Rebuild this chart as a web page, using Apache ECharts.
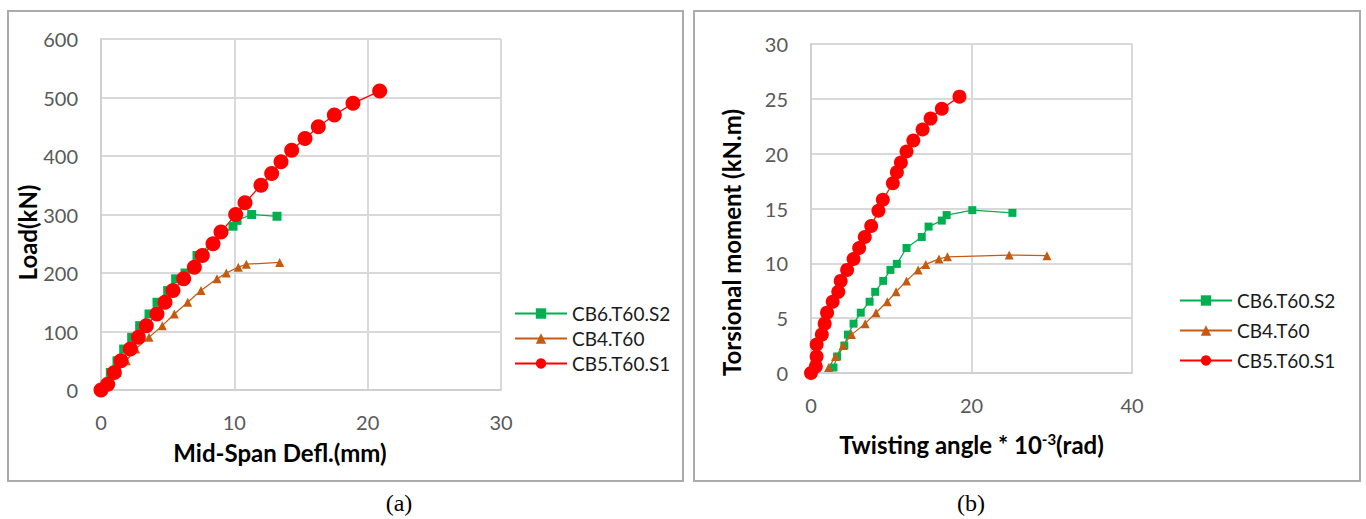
<!DOCTYPE html>
<html>
<head>
<meta charset="utf-8">
<script src="https://cdn.jsdelivr.net/npm/echarts@6/dist/echarts.min.js"></script>
<style>
html,body{margin:0;padding:0;background:#fff;}
#c{width:1366px;height:519px;}
</style>
</head>
<body>
<div id="c"></div>
<script>
// ---- data: panel (a) Load vs mid-span deflection ----
const seriesNames = ['CB6.T60.S2', 'CB4.T60', 'CB5.T60.S1'];
const deflTicks = [0, 10, 20, 30];
const loadTicks = [0, 100, 200, 300, 400, 500, 600];
const defl_CB6 = [[0,0],[0.7,30],[1.2,50],[1.7,70],[2.3,90],[2.9,110],[3.6,130],[4.2,150],[5.0,170],[5.6,190],[6.3,200],[7.2,230],[9.9,280],[10.2,290],[11.3,300],[13.2,297]];
const defl_CB4 = [[0,0],[0.6,10],[1.2,30],[1.9,50],[2.6,70],[3.6,90],[4.6,110],[5.5,130],[6.5,150],[7.5,170],[8.7,190],[9.4,200],[10.3,210],[10.9,215],[13.4,218]];
const defl_CB5 = [[0,0],[0.5,10],[1.0,30],[1.5,50],[2.2,70],[2.8,90],[3.4,110],[4.2,130],[4.8,150],[5.4,170],[6.2,190],[7.0,210],[7.6,230],[8.4,250],[9.0,270],[10.1,300],[10.8,320],[12.0,350],[12.8,370],[13.5,390],[14.3,410],[15.3,430],[16.3,450],[17.5,470],[18.9,490],[20.9,511]];

// ---- data: panel (b) Torsional moment vs twisting angle ----
const angleTicks = [0, 20, 40];
const momentTicks = [0, 5, 10, 15, 20, 25, 30];
const tw_CB6 = [[2.8,0.5],[3.25,1.5],[4.15,2.5],[4.6,3.5],[5.3,4.5],[6.2,5.5],[7.3,6.5],[8.0,7.4],[9.0,8.4],[9.9,9.4],[10.7,9.95],[11.9,11.4],[13.8,12.4],[14.65,13.35],[16.3,13.9],[16.9,14.4],[20.1,14.85],[25.1,14.6]];
const tw_CB4 = [[2.2,0.5],[3.05,1.5],[4.0,2.5],[5.05,3.5],[6.75,4.5],[8.1,5.5],[9.5,6.5],[10.6,7.4],[11.9,8.4],[13.35,9.4],[14.3,9.9],[15.95,10.4],[17.0,10.6],[24.7,10.75],[29.4,10.7]];
const tw_CB5 = [[0,0],[0.6,0.6],[0.7,1.5],[0.7,2.6],[1.35,3.5],[1.7,4.5],[2.0,5.5],[2.7,6.5],[3.4,7.4],[3.7,8.4],[4.5,9.4],[5.3,10.4],[6.0,11.4],[6.7,12.4],[7.5,13.4],[8.4,14.8],[8.95,15.8],[10.2,17.3],[10.7,18.3],[11.2,19.2],[11.9,20.2],[12.75,21.2],[13.9,22.2],[14.9,23.2],[16.3,24.1],[18.5,25.2]];

const colors = ['#00b050', '#c55a11', '#ff0000'];
const symbols = ['rect', 'triangle', 'circle'];
const FONT = 'Lato';
const NAME_SIZE = 24;

const chart = echarts.init(document.getElementById('c'), null, {renderer: 'svg'});

function valAxis(grid, min, max, interval, name, extra) {
  return Object.assign({
    type: 'value', gridIndex: grid, min: min, max: max, interval: interval,
    name: name, nameLocation: 'middle',
    axisLine: {show: true, onZero: false, lineStyle: {color: '#d0d0d0', width: 2}},
    axisTick: {show: false},
    splitLine: {show: true, lineStyle: {color: '#d9d9d9', width: 2}},
    axisLabel: {color: '#595959', fontSize: 20, fontFamily: FONT},
    nameTextStyle: {color: '#000', fontSize: NAME_SIZE, fontWeight: 'bold', fontFamily: FONT}
  }, extra || {});
}

const option = {
  animation: false,
  backgroundColor: '#fff',
  grid: [
    {left: 101, top: 39, width: 400, height: 351},
    {left: 811, top: 44, width: 321, height: 329}
  ],
  xAxis: [
    valAxis(0, deflTicks[0], deflTicks[deflTicks.length-1], 10, 'Mid-Span Defl.(mm)', {
      nameGap: 50, axisLabel: {color: '#595959', fontSize: 20, fontFamily: FONT, margin: 22},
      nameTextStyle: {color: '#000', fontSize: NAME_SIZE, fontWeight: 'bold', fontFamily: FONT, padding: [0, 42, 0, 0]}
    }),
    valAxis(1, angleTicks[0], angleTicks[angleTicks.length-1], 20, '{b|Twisting angle * 10}{s|-3}{b|(rad)}', {
      nameGap: 58, axisLabel: {color: '#595959', fontSize: 20, fontFamily: FONT, margin: 22},
      nameTextStyle: {color: '#000', fontSize: NAME_SIZE, fontWeight: 'bold', fontFamily: FONT, padding: [0, 0, 0, 0],
        rich: {
          b: {color: '#000', fontSize: NAME_SIZE, fontWeight: 'bold', fontFamily: FONT},
          s: {color: '#000', fontSize: 15, fontWeight: 'bold', fontFamily: FONT, verticalAlign: 'top', padding: [0, 0, 12, 0]}
        }}
    })
  ],
  yAxis: [
    valAxis(0, loadTicks[0], loadTicks[loadTicks.length-1], 100, 'Load(kN)', {
      nameGap: 58, axisLabel: {color: '#595959', fontSize: 20, fontFamily: FONT, margin: 23},
      nameTextStyle: {color: '#000', fontSize: NAME_SIZE, fontWeight: 'bold', fontFamily: FONT, padding: [0, 36, 0, 0]}
    }),
    valAxis(1, momentTicks[0], momentTicks[momentTicks.length-1], 5, 'Torsional moment (kN.m)', {
      nameGap: 68, axisLabel: {color: '#595959', fontSize: 20, fontFamily: FONT, margin: 23},
      nameTextStyle: {color: '#000', fontSize: NAME_SIZE, fontWeight: 'bold', fontFamily: FONT, padding: [0, 68, 0, 0]}
    })
  ],
  legend: [
    {
      data: seriesNames, orient: 'vertical', left: 509, top: 299,
      itemWidth: 52, itemHeight: 13, itemGap: 6,
      textStyle: {color: '#1a1a1a', fontSize: 19, fontFamily: FONT},
      selectedMode: false
    },
    {
      data: seriesNames, orient: 'vertical', left: 1174, top: 286,
      itemWidth: 52, itemHeight: 13, itemGap: 11,
      textStyle: {color: '#1a1a1a', fontSize: 19, fontFamily: FONT},
      selectedMode: false
    }
  ],
  series: [
    {name: seriesNames[0], type: 'line', xAxisIndex: 0, yAxisIndex: 0, data: defl_CB6, symbol: symbols[0], symbolSize: 9,
      itemStyle: {color: colors[0]}, lineStyle: {color: colors[0], width: 1.25}},
    {name: seriesNames[1], type: 'line', xAxisIndex: 0, yAxisIndex: 0, data: defl_CB4, symbol: symbols[1], symbolSize: 9,
      itemStyle: {color: colors[1]}, lineStyle: {color: colors[1], width: 1.25}},
    {name: seriesNames[2], type: 'line', xAxisIndex: 0, yAxisIndex: 0, data: defl_CB5, symbol: symbols[2], symbolSize: 15,
      itemStyle: {color: colors[2]}, lineStyle: {color: colors[2], width: 1.25}},
    {name: seriesNames[0], type: 'line', xAxisIndex: 1, yAxisIndex: 1, data: tw_CB6, symbol: symbols[0], symbolSize: 8,
      itemStyle: {color: colors[0]}, lineStyle: {color: colors[0], width: 1.25}},
    {name: seriesNames[1], type: 'line', xAxisIndex: 1, yAxisIndex: 1, data: tw_CB4, symbol: symbols[1], symbolSize: 9,
      itemStyle: {color: colors[1]}, lineStyle: {color: colors[1], width: 1.25}},
    {name: seriesNames[2], type: 'line', xAxisIndex: 1, yAxisIndex: 1, data: tw_CB5, symbol: symbols[2], symbolSize: 14,
      itemStyle: {color: colors[2]}, lineStyle: {color: colors[2], width: 1.25}}
  ],
  graphic: [
    {type: 'rect', shape: {x: 8, y: 11, width: 675, height: 470}, style: {fill: 'none', stroke: '#ababab', lineWidth: 2}, silent: true, z: -1},
    {type: 'rect', shape: {x: 694, y: 11, width: 666, height: 470}, style: {fill: 'none', stroke: '#ababab', lineWidth: 2}, silent: true, z: -1},
    {type: 'text', x: 399, y: 503, style: {text: '(a)', fill: '#000', font: '24px "Liberation Serif"', align: 'center', verticalAlign: 'middle'}},
    {type: 'text', x: 971, y: 503, style: {text: '(b)', fill: '#000', font: '24px "Liberation Serif"', align: 'center', verticalAlign: 'middle'}}
  ]
};
chart.setOption(option);
</script>
</body>
</html>
